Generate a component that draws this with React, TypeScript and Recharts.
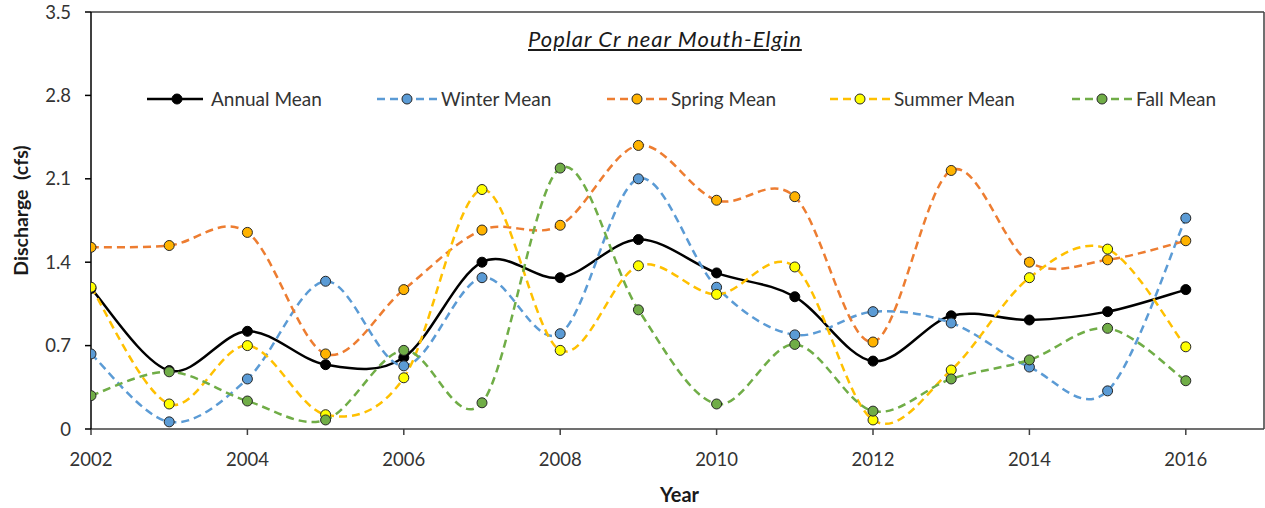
import React from 'react';
import { LineChart, Line, XAxis, YAxis, Legend, ReferenceLine } from 'recharts';

const years = [2002, 2003, 2004, 2005, 2006, 2007, 2008, 2009, 2010, 2011, 2012, 2013, 2014, 2015, 2016];
const annualMean = [1.18, 0.49, 0.82, 0.54, 0.6, 1.4, 1.27, 1.59, 1.31, 1.11, 0.57, 0.95, 0.915, 0.985, 1.17];
const winterMean = [0.63, 0.06, 0.42, 1.24, 0.53, 1.27, 0.8, 2.1, 1.19, 0.79, 0.985, 0.89, 0.52, 0.32, 1.77];
const springMean = [1.525, 1.54, 1.65, 0.63, 1.17, 1.67, 1.71, 2.38, 1.92, 1.95, 0.73, 2.17, 1.4, 1.42, 1.58];
const summerMean = [1.19, 0.21, 0.7, 0.12, 0.43, 2.01, 0.66, 1.37, 1.13, 1.36, 0.076, 0.495, 1.27, 1.51, 0.69];
const fallMean = [0.28, 0.48, 0.235, 0.076, 0.66, 0.22, 2.19, 1.0, 0.21, 0.71, 0.15, 0.42, 0.58, 0.845, 0.405];

const xTicks = [2002, 2004, 2006, 2008, 2010, 2012, 2014, 2016];
const yTicks = [0, 0.7, 1.4, 2.1, 2.8, 3.5];
const xDomain = [2002, 2017];
const yDomain = [0, 3.5];

const titleText = 'Poplar Cr near Mouth-Elgin';
const xTitle = 'Year';
const yTitle = 'Discharge  (cfs)';

const data = years.map((year, i) => ({
  year,
  annual: annualMean[i],
  winter: winterMean[i],
  spring: springMean[i],
  summer: summerMean[i],
  fall: fallMean[i],
}));

const FONT = 'Lato, "Open Sans", sans-serif';
const TEXT = '#333333';

// Excel-like smoothed line: Catmull-Rom spline as cubic Bezier segments
function excelSmooth(context: any) {
  let pts: number[][] = [];
  return {
    areaStart() {},
    areaEnd() {},
    lineStart() {
      pts = [];
    },
    point(x: number, y: number) {
      pts.push([+x, +y]);
    },
    lineEnd() {
      if (!pts.length) return;
      context.moveTo(pts[0][0], pts[0][1]);
      const t = 1 / 6;
      for (let i = 0; i < pts.length - 1; i++) {
        const p0 = pts[i - 1] || pts[i];
        const p1 = pts[i];
        const p2 = pts[i + 1];
        const p3 = pts[i + 2] || p2;
        context.bezierCurveTo(
          p1[0] + (p2[0] - p0[0]) * t,
          p1[1] + (p2[1] - p0[1]) * t,
          p2[0] - (p3[0] - p1[0]) * t,
          p2[1] - (p3[1] - p1[1]) * t,
          p2[0],
          p2[1]
        );
      }
    },
  };
}

const series = [
  { key: 'annual', name: 'Annual Mean', stroke: '#000000', fill: '#000000', dotStroke: '#000000', dash: undefined as string | undefined, legendX: 147 },
  { key: 'winter', name: 'Winter Mean', stroke: '#5B9BD5', fill: '#5B9BD5', dotStroke: '#262626', dash: '8 5', legendX: 377 },
  { key: 'spring', name: 'Spring Mean', stroke: '#ED7D31', fill: '#FFB300', dotStroke: '#262626', dash: '8 5', legendX: 607 },
  { key: 'summer', name: 'Summer Mean', stroke: '#FFC000', fill: '#FFFF00', dotStroke: '#262626', dash: '8 5', legendX: 830 },
  { key: 'fall', name: 'Fall Mean', stroke: '#70AD47', fill: '#70AD47', dotStroke: '#262626', dash: '8 5', legendX: 1072 },
];

function LegendContent() {
  return (
    <svg width={1265} height={24} style={{ display: 'block' }}>
      {series.map((s) => (
        <g key={s.key}>
          <line
            x1={s.legendX}
            x2={s.key === 'annual' ? s.legendX + 56 : s.legendX + 60}
            y1={12}
            y2={12}
            stroke={s.stroke}
            strokeWidth={2.5}
            strokeDasharray={s.dash}
          />
          <circle cx={s.legendX + 30} cy={12} r={5} fill={s.fill} stroke={s.dotStroke} strokeWidth={1} />
          <text x={s.legendX + 64} y={12} dy="0.35em" fontFamily={FONT} fontSize={19} fill={TEXT}>
            {s.name}
          </text>
        </g>
      ))}
    </svg>
  );
}

function YTitle(props: any) {
  const vb = props.viewBox || { x: 0, y: 12, width: 91, height: 417 };
  const cx = vb.x + 20;
  const cy = vb.y + vb.height / 2 - 10;
  return (
    <text
      x={cx}
      y={cy}
      transform={`rotate(-90, ${cx}, ${cy})`}
      textAnchor="middle"
      dominantBaseline="central"
      fontFamily={FONT}
      fontWeight="bold"
      fontSize={19.5}
      fill="#1a1a1a"
      style={{ whiteSpace: 'pre' }}
    >
      {yTitle}
    </text>
  );
}

function XTitle(props: any) {
  const vb = props.viewBox || { x: 91, y: 429, width: 1173, height: 79 };
  const cx = vb.x + vb.width / 2 + 2;
  return (
    <text x={cx} y={494} textAnchor="middle" dominantBaseline="central" fontFamily={FONT} fontWeight="bold" fontSize={20} fill="#1a1a1a">
      {xTitle}
    </text>
  );
}

export default function App() {
  return (
    <div style={{ position: 'absolute', left: 0, top: 0, width: 1265, height: 508, background: '#fff' }}>
      <LineChart width={1265} height={508} data={data} margin={{ top: 12, right: 1, bottom: 0, left: 0 }}>
        <XAxis
          dataKey="year"
          type="number"
          domain={xDomain}
          ticks={xTicks}
          allowDataOverflow
          height={79}
          stroke="#404040"
          strokeWidth={1.5}
          tickSize={6}
          tickMargin={18}
          tick={{ fontFamily: FONT, fontSize: 18.5, fill: TEXT }}
          label={<XTitle />}
        />
        <YAxis
          type="number"
          domain={yDomain}
          ticks={yTicks}
          width={91}
          stroke="#000"
          strokeWidth={1.5}
          tickSize={6}
          tickMargin={14}
          tick={{ fontFamily: FONT, fontSize: 18.5, fill: TEXT }}
          label={<YTitle />}
        />
        <ReferenceLine y={3.5} stroke="#404040" strokeWidth={1.5} />
        <ReferenceLine x={2017} stroke="#404040" strokeWidth={1.5} />
        <Legend
          verticalAlign="middle"
          align="center"
          layout="horizontal"
          content={<LegendContent />}
          wrapperStyle={{ top: 87, left: 0, width: 1265, height: 24 }}
        />
        {series.map((s) => (
          <Line
            key={s.key}
            dataKey={s.key}
            name={s.name}
            type={excelSmooth as any}
            stroke={s.stroke}
            strokeWidth={2.5}
            strokeDasharray={s.dash}
            dot={{ r: 5, fill: s.fill, stroke: s.dotStroke, strokeWidth: 1, strokeDasharray: '' }}
            activeDot={false}
            isAnimationActive={false}
            legendType="none"
          />
        ))}
      </LineChart>
      <div
        style={{
          position: 'absolute',
          left: 528,
          top: 26,
          fontFamily: FONT,
          fontStyle: 'italic',
          fontSize: 22,
          letterSpacing: '1px',
          color: '#1a1a1a',
          textDecoration: 'underline',
          textUnderlineOffset: '2px',
          whiteSpace: 'nowrap',
          lineHeight: '26px',
        }}
      >
        {titleText}
      </div>
    </div>
  );
}
